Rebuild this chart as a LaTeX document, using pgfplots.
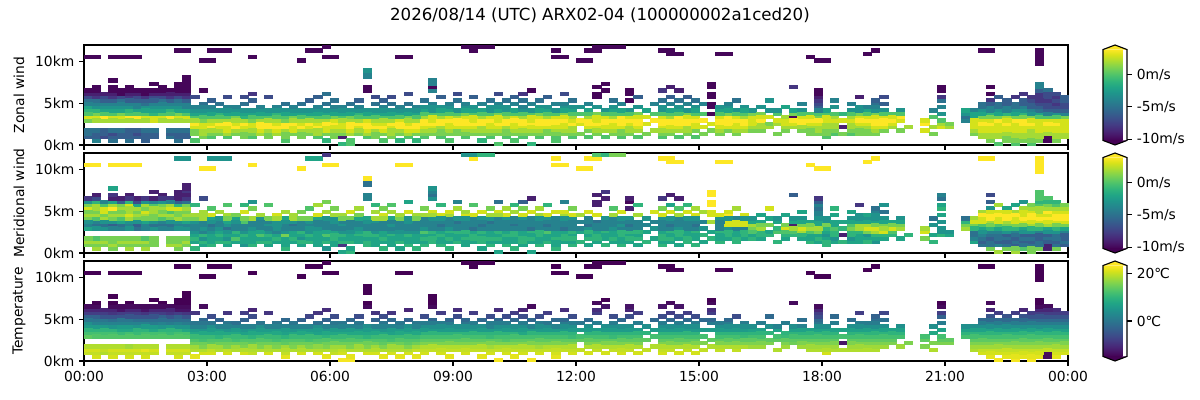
\documentclass[border=0pt]{standalone}
\usepackage{fontspec}
\setmainfont{DejaVu Sans}
\usepackage{pgfplots}
\usepackage{pgfplotstable}
\pgfplotsset{compat=1.18}
\definecolor{vtop}{RGB}{253,231,37}
\definecolor{vbot}{RGB}{68,1,84}

% i = 12-minute column (hour = 0.2 i), j = 0.4 km level; u, v in m/s, t in degC
\pgfplotstableread{
i j u v t
0 2 -6 1 20
0 3 -5 2 21
0 7 1 -2 14
0 8 3 -4 12
0 10 -1 1 6
0 11 -2 2 4
0 13 -5 3 -3
0 14 -7 1 -8
0 15 -9 -3 -11
0 16 -10 -8 -14
0 26 -10 4 -15
1 1 -4 2 21
1 2 -6 1 20
1 3 -6 2 21
1 4 -5 0 19
1 8 3 -5 12
1 9 1 -4 10
1 10 -1 0 6
1 11 -3 2 2
1 12 -4 1 0
1 13 -5 2 -3
1 14 -8 2 -8
1 15 -9 -1 -11
1 16 -10 -7 -14
1 17 -10 -9 -15
1 26 -10 4 -15
2 2 -7 1 19
2 3 -6 2 20
2 4 -6 1 19
2 7 2 -3 13
2 8 4 -5 12
2 10 -2 2 6
2 11 -3 1 2
2 12 -4 3 0
2 13 -6 3 -5
2 14 -7 0 -8
2 15 -9 -4 -11
3 1 -5 1 21
3 2 -6 2 20
3 3 -7 1 21
3 8 3 -6 12
3 9 0 -3 10
3 10 -2 1 5
3 11 -3 2 2
3 12 -4 1 -1
3 13 -6 4 -5
3 14 -8 2 -9
3 15 -9 -2 -11
3 16 -10 -9 -14
3 17 -10 -8 -15
3 19 -10 -2 -15
3 26 -10 4 -15
4 2 -6 1 20
4 3 -6 2 21
4 4 -5 1 19
4 7 2 -4 13
4 8 3 -5 11
4 9 1 -2 8
4 10 -2 0 6
4 11 -3 2 2
4 13 -5 2 -5
4 14 -7 1 -8
4 15 -10 -6 -13
4 16 -10 -9 -14
4 26 -10 4 -15
5 1 -5 2 21
5 2 -6 1 20
5 3 -6 2 21
5 4 -6 1 18
5 8 4 -4 12
5 9 0 -3 8
5 10 -1 2 6
5 11 -3 3 2
5 12 -4 2 0
5 14 -8 3 -8
5 15 -9 -1 -11
5 17 -10 -9 -15
5 26 -10 4 -15
6 2 -6 1 20
6 3 -7 2 21
6 4 -6 1 19
6 7 2 -5 13
6 8 4 -6 11
6 10 -2 1 5
6 11 -4 2 2
6 12 -4 1 -1
6 13 -6 2 -5
6 14 -7 -2 -8
6 15 -9 -7 -11
6 16 -10 -9 -14
6 26 -10 4 -15
7 1 -6 2 21
7 2 -6 1 20
7 3 -6 2 22
7 4 -5 0 19
7 8 3 -4 12
7 9 0 -2 10
7 11 -3 2 2
7 12 -5 3 -1
7 13 -6 1 -5
7 14 -8 2 -9
7 15 -10 -3 -13
7 16 -10 -8 -14
8 2 -6 1 20
8 3 -6 1 21
8 7 3 -3 13
8 8 3 -5 12
8 9 -1 -3 8
8 10 -2 1 6
8 11 -3 1 1
8 12 -4 2 -1
8 14 -7 0 -8
8 15 -9 -4 -11
8 16 -10 -9 -14
8 18 -10 -9 -15
9 8 3 -5 12
9 9 0 -4 10
9 10 -2 0 5
9 11 -3 2 2
9 13 -5 2 -3
9 14 -7 1 -8
9 15 -9 -3 -11
9 17 -10 -9 -15
10 2 -5 2 20
10 3 -6 1 21
10 7 2 -4 13
10 8 4 -5 11
10 10 -1 1 6
10 11 -3 2 1
10 12 -4 0 -1
10 13 -6 3 -5
10 14 -8 2 -9
10 16 -10 -8 -14
11 1 -5 1 21
11 2 -6 2 20
11 3 -6 1 21
11 8 3 -4 12
11 9 1 -3 10
11 10 -2 2 5
11 11 -3 1 2
11 12 -4 1 -1
11 13 -5 3 -3
11 14 -7 -1 -8
11 15 -9 -6 -13
11 16 -10 -9 -14
11 17 -10 -9 -15
11 18 -10 -9 -15
11 28 -10 -3 -15
12 2 -6 1 20
12 3 -6 2 21
12 4 -5 1 19
12 7 2 -3 13
12 8 3 -4 12
12 9 0 -2 8
12 10 -2 1 5
12 11 -4 2 1
12 12 -4 1 -1
12 13 -6 2 -5
12 14 -8 1 -9
12 15 -9 -5 -13
12 18 -10 -8 -15
12 19 -10 -9 -15
12 20 -10 -9 -15
12 28 -10 -3 -15
13 1 0 -1 22
13 3 1 -2 19
13 4 1 -1 18
13 5 3 -2 15
13 6 4 -3 13
13 8 0 -4 8
13 9 -2 -3 6
13 10 -3 1 2
13 11 -4 2 0
13 14 -7 -1 -9
14 2 1 -2 21
14 3 2 -1 19
14 4 2 -3 16
14 5 3 -1 15
14 6 3 -4 12
14 7 1 -3 11
14 9 -2 -4 5
14 10 -3 2 2
14 12 -5 2 -2
14 16 -10 -7 -14
14 25 -10 4 -15
15 2 0 -1 21
15 3 1 -2 20
15 5 4 -2 14
15 6 3 -3 13
15 7 2 -4 11
15 8 0 -5 8
15 10 -3 -2 4
15 11 -4 3 0
15 13 -6 0 -6
15 25 -10 4 -15
15 28 -10 -3 -15
16 3 1 -1 19
16 4 2 -2 18
16 5 3 -1 15
16 6 4 -2 13
16 7 2 -3 10
16 9 -1 -4 6
16 10 -3 -3 2
16 12 -5 2 -3
16 28 -10 -3 -15
17 2 0 -2 21
17 3 2 -1 20
17 4 3 -3 16
17 5 3 -2 15
17 7 2 -5 11
17 8 0 -3 8
17 9 -2 -2 5
17 11 -4 2 0
17 14 -7 0 -9
17 28 -10 -3 -15
18 3 1 -2 19
18 4 2 0 18
18 5 4 -2 15
18 6 3 -1 12
18 8 1 -4 8
18 10 -3 -2 2
18 11 -4 1 -1
19 2 1 -3 21
19 4 2 -2 16
19 5 3 -1 15
19 6 4 -3 13
19 7 2 -4 11
19 8 -1 -4 7
19 9 -2 0 5
19 12 -5 3 -3
19 14 -7 -1 -8
20 2 0 -1 20
20 3 1 -2 19
20 5 3 -2 14
20 6 3 -2 13
20 7 1 -3 10
20 9 -2 -4 6
20 10 -3 2 2
20 13 -6 1 -6
20 15 -8 -3 -11
20 26 -10 4 -15
21 3 2 -1 19
21 4 3 -2 16
21 5 4 0 15
21 7 2 -4 11
21 8 0 -4 8
21 10 -3 -3 4
21 11 -4 2 0
22 2 1 -2 21
22 3 1 -1 19
22 4 2 -2 18
22 5 4 -1 15
22 6 4 -3 13
22 8 0 -3 8
22 9 -2 -4 6
22 10 -3 1 2
22 14 -7 0 -9
23 3 2 -2 19
23 4 3 -1 16
23 5 4 -2 15
23 6 3 -4 12
23 7 2 -3 11
23 9 -1 -3 6
23 11 -4 3 0
24 1 0 -1 22
24 2 1 -2 20
24 4 2 -2 18
24 5 4 1 14
24 6 4 -3 13
24 7 1 -4 10
24 8 0 -4 7
24 10 -3 -2 2
24 12 -5 2 -2
25 3 1 -2 19
25 4 3 -1 16
25 5 3 -2 15
25 6 4 -2 13
25 8 1 -5 8
25 9 -2 -3 5
25 10 -3 2 2
25 11 -4 2 0
26 2 1 -2 21
26 4 2 -3 18
26 5 4 -2 15
26 6 3 -1 13
26 7 2 -4 11
26 9 -2 -4 6
26 12 -5 1 -3
26 25 -10 4 -15
27 3 1 -1 19
27 4 2 -2 16
27 5 3 -1 15
27 6 4 -3 12
27 8 0 -4 8
27 9 -2 -3 6
27 10 -3 1 2
27 13 -6 0 -7
27 28 -10 -2 -15
28 2 0 -2 21
28 3 2 -2 19
28 5 4 -2 14
28 6 3 -2 13
28 7 2 -3 11
28 8 0 -4 7
28 10 -3 -2 4
28 11 -4 3 -1
28 14 -6 2 -9
28 28 -10 -2 -15
29 1 -1 -3 22
29 3 1 -1 19
29 4 3 -2 16
29 5 3 0 15
29 7 2 -4 10
29 9 -2 -4 5
29 10 -3 -3 2
29 12 -5 2 -3
29 15 -5 1 -10
29 26 -10 4 -15
29 29 -10 -8 -15
30 2 1 -2 20
30 3 1 -2 19
30 4 2 -1 18
30 6 4 -2 13
30 7 3 -4 11
30 8 1 -4 8
30 10 -3 -3 2
30 11 -4 2 0
30 13 -5 1 -6
30 26 -10 4 -15
31 0 -1 -2 23
31 2 -9 -8 21
31 3 1 -1 20
31 4 2 -2 18
31 5 3 -1 15
31 6 3 -3 13
31 8 0 -3 8
31 9 -2 -4 6
31 11 -4 2 0
32 0 0 -1 23
32 1 0 -2 22
32 3 2 -1 19
32 4 3 -2 16
32 5 4 -2 15
32 7 2 -4 11
32 8 1 -4 8
32 10 -3 1 2
32 12 -5 3 -2
33 3 1 -2 19
33 5 3 -1 15
33 6 4 -2 13
33 7 2 -3 11
33 9 -1 -4 6
33 10 -3 -2 2
33 11 -4 1 0
33 13 -6 2 -6
34 2 0 -1 21
34 3 2 -1 19
34 4 3 -2 16
34 6 4 -1 13
34 7 3 -4 10
34 8 0 -4 8
34 10 -3 -2 4
34 16 -10 -4 -14
34 17 -10 -4 -15
34 20 -4 -5 -15
34 21 -4 -5 -15
34 22 -3 4 -15
35 2 1 -2 21
35 4 2 -2 18
35 5 4 -1 15
35 6 3 -3 13
35 7 2 -4 11
35 9 -2 -3 6
35 10 -3 2 2
35 12 -5 2 -3
35 14 -7 -1 -9
36 1 0 -1 22
36 3 1 -2 19
36 4 3 -1 16
36 5 4 -2 14
36 6 3 -2 13
36 8 0 -4 8
36 9 -2 -4 5
36 11 -4 3 0
36 13 -6 1 -6
37 2 1 -2 21
37 3 2 -2 19
37 5 3 -1 15
37 6 4 -3 12
37 7 2 -4 11
37 8 0 -3 7
37 10 -3 -2 2
37 12 -5 2 -2
37 14 -7 0 -9
38 1 -1 -2 22
38 3 1 -1 19
38 4 2 -2 18
38 5 4 -2 15
38 7 3 -4 11
38 9 -2 -4 6
38 10 -3 1 2
38 11 -4 2 0
38 26 -10 4 -15
39 2 0 -1 21
39 3 2 -2 19
39 4 3 -2 16
39 5 4 -1 14
39 6 3 -3 13
39 8 1 -4 8
39 10 -3 -3 4
39 12 -5 3 -3
39 15 -7 -2 -11
39 26 -10 4 -15
40 1 -1 -1 22
40 3 1 -2 20
40 4 3 -2 18
40 5 4 -2 15
40 6 4 -3 13
40 7 2 -4 11
40 9 -2 -4 6
40 11 -4 2 0
41 2 0 -1 21
41 3 1 -2 20
41 4 2 -1 19
41 5 3 -2 16
41 6 4 0 14
41 7 4 -3 12
41 8 2 -4 10
41 10 -2 -4 4
41 11 -3 2 1
41 13 -5 1 -6
42 3 1 -1 20
42 5 3 -2 16
42 6 4 -1 14
42 7 3 -4 12
42 9 0 -4 6
42 10 -3 -3 4
42 12 -4 3 -2
42 16 -4 -3 -14
42 17 -10 -5 -15
42 18 -4 -4 -15
42 19 -4 -3 -15
43 2 0 -1 21
43 4 1 -2 19
43 5 2 -1 16
43 6 4 -2 14
43 7 4 -4 12
43 8 2 -5 10
43 9 0 -4 6
43 11 -3 3 1
43 14 -6 -1 -8
44 1 0 -1 22
44 3 1 -2 20
44 4 2 -1 19
44 6 3 -1 14
44 7 4 -3 12
44 8 3 -4 10
44 10 -2 -4 4
44 11 -3 2 1
44 12 -4 3 -2
45 3 1 -1 20
45 4 1 -2 19
45 5 3 -2 16
45 6 4 -1 14
45 8 2 -4 10
45 9 0 -5 6
45 10 -3 -3 4
45 13 -5 2 -6
45 15 -7 -4 -10
46 2 0 -2 21
46 4 2 -1 19
46 5 3 -2 16
46 7 4 -4 12
46 8 3 -4 10
46 9 1 -4 6
46 11 -3 3 0
46 12 -4 2 -2
46 29 -10 -3 -15
47 3 1 -2 20
47 4 2 -1 19
47 5 3 -1 16
47 6 4 -2 14
47 7 3 -5 12
47 9 0 -4 6
47 10 -2 -4 4
47 11 -3 3 1
47 14 -6 0 -8
47 28 -10 4 -15
47 29 -10 -3 -15
48 1 -1 -2 22
48 3 1 -1 20
48 5 2 -2 16
48 6 4 -1 14
48 7 4 -4 12
48 8 2 -5 10
48 10 -2 -3 4
48 12 -4 3 -2
48 29 -10 -1 -15
49 2 0 -1 21
49 3 1 -2 20
49 4 2 -1 18
49 6 3 -2 14
49 7 4 -4 11
49 8 3 -4 10
49 9 0 -5 6
49 10 -3 -3 2
49 11 -3 2 1
49 13 -5 1 -6
49 29 -10 -1 -15
50 0 0 -2 23
50 3 1 -2 20
50 4 2 -1 19
50 5 3 -2 16
50 6 4 -1 14
50 7 3 -4 12
50 9 1 -4 6
50 10 -2 -4 4
50 12 -4 3 -2
50 15 -7 -5 -10
51 2 0 -1 21
51 4 1 -2 19
51 5 2 -1 16
51 6 4 -2 13
51 7 4 -4 12
51 8 2 -4 10
51 10 -3 -3 4
51 11 -3 3 1
51 13 -5 2 -6
52 1 0 -1 22
52 3 1 -2 20
52 4 2 -2 19
52 5 3 -1 16
52 6 3 -1 14
52 8 3 -5 10
52 9 0 -4 6
52 10 -2 -4 4
52 12 -4 2 -2
52 14 -6 -1 -8
53 2 0 -2 21
53 3 1 -1 20
53 5 3 -2 16
53 6 4 -2 14
53 7 4 -4 12
53 8 2 -4 8
53 10 -3 -3 4
53 11 -4 3 1
53 13 -5 1 -6
53 15 -8 -6 -11
54 0 -1 -2 23
54 3 1 -2 20
54 4 2 -1 19
54 6 4 -1 14
54 7 3 -5 12
54 9 0 -4 6
54 10 -3 -4 2
54 12 -4 3 -2
54 16 -10 -9 -14
55 2 0 -1 21
55 3 1 -2 20
55 4 2 -2 18
55 5 3 -1 16
55 7 4 -4 12
55 8 3 -4 10
55 9 1 -4 6
55 11 -3 2 1
55 13 -5 2 -6
56 3 1 -1 20
56 4 1 -2 19
56 5 3 -2 16
56 6 4 0 14
56 7 4 -4 12
56 8 2 -5 10
56 10 -2 -3 4
56 11 -3 3 0
56 14 -6 -1 -8
57 1 0 -1 22
57 2 0 -2 21
57 4 2 -1 19
57 6 4 -2 14
57 7 4 -4 12
57 8 3 -4 10
57 9 0 -4 6
57 10 -3 -4 2
57 12 -4 3 -2
57 26 -10 4 -15
57 28 -10 4 -15
58 3 1 -2 20
58 4 2 -1 19
58 5 3 -1 16
58 6 3 -2 14
58 7 4 -5 12
58 9 1 -4 6
58 11 -3 2 1
58 12 -4 3 -2
58 15 -7 -4 -10
58 26 -10 4 -15
59 2 0 -1 21
59 3 1 -2 20
59 5 2 -2 16
59 6 4 -1 14
59 7 3 -4 11
59 8 2 -4 10
59 10 -2 -3 4
59 11 -3 3 1
59 13 -5 1 -6
60 3 1 -1 20
60 6 3 -2 14
60 7 4 -4 12
60 9 0 -4 6
60 11 -3 2 0
60 25 -10 4 -15
61 2 0 -2 21
61 4 1 -1 19
61 5 3 -2 16
61 7 4 -3 12
61 8 2 -5 10
61 10 -2 -4 4
61 12 -4 3 -2
61 25 -10 4 -15
61 28 -10 4 -15
62 3 1 -2 20
62 5 3 -1 16
62 6 4 -2 14
62 7 3 -4 12
62 9 1 -5 6
62 11 -3 3 1
62 14 -10 -9 -8
62 15 -10 -9 -10
62 17 -10 -9 -14
62 28 -10 4 -15
62 29 -10 0 -15
63 2 0 -1 21
63 4 2 -2 19
63 6 4 -1 14
63 7 4 -4 12
63 8 3 -4 10
63 10 -3 -3 4
63 16 -10 -9 -13
63 18 -10 -8 -15
63 29 -10 -1 -15
64 3 1 -2 20
64 4 2 -1 19
64 6 3 -2 14
64 7 4 -3 11
64 8 2 -4 10
64 10 -2 -4 4
64 11 -3 2 1
64 13 -5 0 -6
64 29 -10 1 -15
65 2 0 -1 21
65 4 1 -2 19
65 5 3 -1 16
65 7 4 -4 12
65 8 4 -3 10
65 9 0 -4 6
65 12 -4 3 -2
65 29 -10 1 -15
66 3 1 -2 20
66 5 2 -2 16
66 6 3 -1 14
66 7 4 -4 12
66 8 3 -5 10
66 10 -3 -3 4
66 13 -10 -9 -6
66 15 -10 -10 -11
66 16 -10 -9 -13
67 2 0 -2 21
67 4 2 -1 19
67 5 3 -2 16
67 7 4 -4 12
67 9 1 -4 6
67 11 -3 2 1
67 14 -6 -1 -8
68 3 1 -1 20
68 6 3 -2 14
68 8 3 -4 10
68 10 -2 -3 4
69 4 2 -2 19
69 7 4 -3 12
69 9 0 -4 6
69 12 -4 3 -2
70 2 0 -1 21
70 3 1 -2 20
70 5 3 -1 16
70 6 4 -2 14
70 7 4 -4 12
70 8 3 -4 10
70 10 -3 -3 4
70 11 -3 3 1
70 13 -5 1 -6
70 16 -8 -8 -13
70 28 -10 4 -15
71 3 1 -2 20
71 4 2 -1 19
71 6 4 -1 14
71 7 4 -4 12
71 8 2 -5 10
71 9 0 -4 6
71 12 -4 3 -2
71 14 -6 -2 -8
71 17 -9 -9 -14
71 27 -10 4 -15
71 28 -10 4 -15
72 2 0 -2 21
72 4 2 -2 19
72 5 3 -1 16
72 7 4 -3 12
72 8 4 -4 10
72 10 -2 -4 4
72 11 -3 2 1
72 13 -5 0 -6
72 16 -9 -9 -13
72 27 -10 4 -15
73 3 1 -1 20
73 5 2 -2 16
73 6 4 -2 14
73 7 4 -4 12
73 9 1 -4 6
73 10 -3 -3 4
73 12 -4 3 -2
73 14 -6 -1 -8
74 2 0 -1 21
74 4 1 -2 19
74 6 3 -1 14
74 7 4 -4 12
74 8 3 -5 10
74 11 -3 3 1
74 13 -5 2 -6
75 3 1 -2 20
75 5 3 -1 16
75 7 4 -3 12
75 9 0 -4 6
75 12 -4 2 -2
76 4 1 -1 19
76 6 3 -2 14
76 9 -10 2 6
76 11 -10 3 1
76 12 -10 3 -2
76 14 -10 4 -8
76 15 -10 4 -10
76 17 -10 4 -14
76 18 -10 4 -15
77 3 1 -1 20
77 4 2 -2 19
77 6 4 -1 14
77 7 4 -4 12
77 8 3 -4 10
77 10 -2 -3 4
77 11 -3 3 1
77 27 -10 4 -15
78 4 1 -2 19
78 5 3 -1 16
78 7 4 -3 12
78 8 4 3 10
78 9 1 3 6
78 11 -3 4 1
78 12 -4 3 -2
78 27 -10 4 -15
79 3 1 -1 20
79 6 3 -2 14
79 7 4 -4 12
79 8 3 3 10
79 10 -3 -4 4
79 13 -5 2 -6
80 4 2 -2 19
80 5 3 -1 16
80 7 4 -4 11
80 8 2 3 10
80 9 0 3 6
80 11 -3 3 1
81 4 1 -1 18
81 5 2 -2 16
81 7 3 1 12
81 8 3 2 10
81 9 1 -2 7
81 10 -3 -3 4
82 4 1 -2 18
82 6 2 -1 14
82 7 4 2 12
82 9 1 -2 7
82 11 -3 -2 1
83 5 2 -1 16
83 6 1 -2 14
83 8 3 1 10
83 10 -3 -2 4
83 13 -3 3 -2
84 3 1 -1 19
84 6 2 0 14
84 7 3 -1 12
84 9 0 -2 7
84 10 -3 -3 2
85 4 1 -2 18
85 5 2 -1 16
85 7 3 3 11
85 8 2 1 10
85 11 -2 -2 1
86 5 2 -1 15
86 6 3 0 14
86 8 -10 -9 10
86 9 1 -2 7
86 10 -2 -3 4
86 17 -8 -6 -14
87 4 1 -2 18
87 6 4 2 14
87 7 4 3 12
87 8 3 1 10
87 10 -3 -3 2
87 12 -4 -2 -1
88 3 1 -1 19
88 5 2 -2 16
88 6 3 0 14
88 7 4 2 12
88 9 0 -2 7
88 26 -10 4 -15
89 3 1 -2 19
89 4 2 -1 18
89 5 2 -2 16
89 6 3 1 14
89 8 1 -2 10
89 11 -6 -4 0
89 12 -7 -4 -2
89 13 -8 -5 -6
89 14 -9 -4 -8
89 15 -10 -6 -11
89 16 -10 -8 -14
89 25 -10 4 -15
90 2 0 -1 21
90 4 1 -2 18
90 5 2 -3 16
90 6 2 -2 14
90 7 3 -1 12
90 9 0 -3 7
90 10 -2 -3 4
90 25 -10 4 -15
91 3 0 -2 19
91 4 1 -3 18
91 6 2 -1 14
91 7 3 0 12
91 8 2 -2 10
91 11 -3 -2 1
91 13 -4 -1 -2
92 3 1 -1 19
92 5 -9 -9 -13
92 7 3 -1 12
92 9 -1 -2 7
93 3 0 -2 19
93 4 1 -3 18
93 6 2 -1 14
93 7 3 1 12
93 8 2 0 10
93 10 -3 -3 4
93 12 -4 -2 -1
94 3 1 -2 19
94 5 2 -2 16
94 6 3 -1 14
94 8 3 2 10
94 9 1 -2 7
94 11 -3 -3 1
94 14 -9 -8 -8
95 4 1 -2 18
95 5 2 -3 16
95 6 3 1 14
95 7 4 3 12
95 8 3 2 10
95 10 -2 -3 4
95 11 -4 -2 1
95 27 -10 4 -15
96 3 1 -3 19
96 4 2 -2 18
96 5 3 -1 16
96 6 4 2 14
96 7 4 3 12
96 9 1 -2 7
96 12 -5 -4 -1
96 13 -6 -5 -3
96 28 -10 4 -15
97 4 1 -2 18
97 5 3 -1 16
97 6 4 3 14
97 8 3 1 10
97 10 -3 -3 4
97 12 -6 -5 -1
97 14 -7 -3 -7
98 5 2 -1 16
98 6 3 0 14
98 7 4 3 12
98 9 0 -2 7
99 4 1 -2 18
99 7 3 2 12
99 8 4 1 10
99 10 -3 -3 4
100 5 2 -1 16
102 4 3 1 16
102 6 4 3 14
102 7 3 2 12
103 3 1 -1 19
103 5 2 -2 16
103 8 0 -3 8
103 10 -4 -5 4
104 5 3 -1 16
104 6 2 -3 14
104 7 0 -3 12
104 9 -3 -3 7
104 11 -4 -2 1
104 13 -5 -1 -3
104 14 -8 -2 -8
104 16 -10 -5 -14
104 17 -10 -4 -15
105 5 2 -2 16
105 6 1 -3 14
107 7 -4 2 12
107 8 -5 1 10
107 9 -3 -1 7
107 10 -2 -5 4
108 3 1 -2 19
108 4 2 -4 18
108 5 3 -5 16
108 6 3 -5 14
108 8 -2 1 10
108 10 -4 2 4
109 2 2 -5 21
109 3 2 -6 20
109 4 3 -5 18
109 5 3 -4 16
109 7 3 -2 12
109 8 1 0 10
109 10 -3 3 4
109 12 -5 2 -2
109 28 -10 4 -15
110 1 1 1 22
110 3 2 -5 20
110 4 3 -6 18
110 5 3 -5 16
110 6 4 -4 14
110 7 3 -1 12
110 9 -1 2 7
110 11 -4 4 1
110 13 -8 -3 -5
110 15 -10 -6 -11
110 17 -10 -7 -14
110 28 -10 4 -15
111 0 0 2 23
111 2 2 -4 21
111 3 2 -6 20
111 5 3 -5 16
111 6 3 -4 14
111 7 4 -2 12
111 8 1 0 10
111 10 -3 3 4
111 12 -5 3 -2
111 14 -6 2 -8
112 1 1 1 22
112 2 1 -5 21
112 4 3 -5 18
112 5 3 -6 16
112 6 4 -3 14
112 8 2 1 10
112 9 -1 2 7
112 11 -4 4 1
112 13 -6 -2 -5
113 0 0 2 23
113 2 2 -6 21
113 3 2 -5 20
113 4 3 -6 18
113 6 3 -4 14
113 7 4 -1 12
113 8 1 1 10
113 10 -3 3 4
113 12 -5 2 -2
113 14 -8 -2 -8
114 1 1 0 22
114 3 2 -6 20
114 4 3 -5 18
114 5 3 -6 16
114 7 4 -2 12
114 9 -1 3 7
114 10 -3 4 4
114 11 -4 3 1
114 13 -6 2 -5
114 15 -8 -3 -11
115 0 0 1 23
115 2 2 -5 21
115 3 2 -6 20
115 4 2 -5 18
115 5 3 -6 16
115 6 4 -3 14
115 8 1 2 10
115 10 -4 4 4
115 12 -6 3 -2
115 13 -7 2 -5
115 14 -8 1 -8
116 1 1 1 22
116 3 2 -5 20
116 4 3 -6 18
116 6 3 -4 14
116 7 3 -1 12
116 9 -2 3 7
116 10 -5 4 4
116 11 -6 3 1
116 12 -7 2 -2
116 14 -8 0 -8
116 15 -8 -1 -11
116 16 -6 0 -14
116 17 -4 0 -15
116 18 -4 0 -15
116 24 -10 4 -15
116 25 -10 4 -15
116 26 -10 4 -15
116 27 -10 4 -15
116 28 -10 4 -15
117 1 -10 -9 -14
117 2 -10 -9 -14
117 4 3 -5 18
117 5 3 -6 16
117 7 3 -2 12
117 8 0 2 10
117 10 -6 4 4
117 11 -7 3 1
117 12 -7 4 -2
117 13 -8 2 -5
117 14 -7 1 -8
117 16 -5 0 -14
118 1 1 1 22
118 2 2 -5 21
118 3 2 -6 20
118 5 3 -5 16
118 6 4 -3 14
118 7 3 -1 12
118 9 -3 3 7
118 10 -6 4 4
118 11 -7 4 1
118 12 -8 3 -2
118 13 -7 2 -5
118 14 -8 0 -8
118 15 -7 -1 -10
119 2 2 -6 21
119 3 2 -5 20
119 4 3 -6 18
119 6 3 -4 14
119 7 3 -2 12
119 8 1 1 10
119 9 -4 3 7
119 10 -6 4 4
119 11 -7 4 1
119 12 -7 3 -2
119 13 -6 2 -5
119 14 -6 1 -8
0 4 -5 1 19
0 9 0 -3 10
0 12 -4 1 0
1 7 2 -3 13
2 9 0 -3 10
3 4 -5 1 19
3 7 2 -4 13
4 12 -4 1 0
5 7 2 -3 13
5 13 -6 2 -5
5 16 -10 -8 -14
6 9 0 -3 10
7 7 2 -4 13
7 10 -2 1 6
8 4 -5 1 19
8 13 -6 2 -5
9 7 2 -4 13
9 12 -4 1 -1
9 16 -10 -8 -14
10 4 -5 1 19
10 9 0 -3 10
10 15 -9 -4 -11
11 4 -5 1 19
11 7 2 -3 13
12 16 -10 -8 -14
12 17 -10 -9 -15
13 7 2 -4 11
14 8 0 -4 8
14 11 -4 2 0
15 4 2 -2 18
15 9 -2 -3 6
16 8 0 -4 8
17 6 4 -3 13
17 10 -3 1 2
18 7 2 -4 11
18 9 -2 -3 6
19 3 1 -2 19
19 10 -3 1 2
20 4 2 -2 18
20 8 0 -4 8
21 6 4 -2 13
21 9 -2 -4 6
22 7 2 -4 11
23 8 0 -3 8
23 10 -3 2 2
24 3 1 -2 19
24 9 -2 -3 6
25 7 2 -4 11
26 3 1 -1 19
26 8 0 -4 8
26 10 -3 1 2
27 7 2 -3 11
28 4 2 -2 17
28 9 -2 -4 6
29 6 4 -2 13
29 8 0 -4 8
30 5 3 -1 15
30 9 -2 -3 6
31 7 2 -4 11
31 10 -3 1 2
32 6 4 -3 13
32 9 -2 -4 6
33 4 2 -2 18
33 8 0 -4 8
34 5 4 -1 15
34 9 -2 -3 6
35 3 1 -2 19
35 8 0 -4 8
36 7 2 -4 11
36 10 -3 2 2
37 4 2 -2 18
37 9 -2 -4 6
38 6 4 -3 13
38 8 0 -4 8
39 7 2 -4 11
39 9 -2 -3 6
40 8 0 -4 8
40 10 -3 1 2
41 9 0 -4 6
42 4 2 -1 19
42 8 3 -4 10
42 11 -3 2 1
43 3 1 -2 20
43 10 -2 -3 4
44 5 3 -2 16
44 9 0 -4 6
45 7 4 -4 12
46 3 1 -2 20
46 6 4 -1 14
46 10 -2 -3 4
47 8 3 -4 10
48 4 2 -1 19
48 9 0 -4 6
49 5 3 -2 16
50 8 3 -4 10
50 11 -3 2 1
51 3 1 -2 20
51 9 0 -4 6
52 7 4 -4 12
53 4 2 -1 19
53 9 0 -4 6
54 5 3 -2 16
54 8 3 -4 10
55 6 4 -1 14
55 10 -2 -3 4
56 9 0 -4 6
57 3 1 -2 20
57 5 3 -2 16
58 8 3 -4 10
58 10 -2 -3 4
59 4 2 -1 19
59 9 0 -4 6
61 6 4 -1 14
61 9 0 -4 6
62 4 2 -1 19
62 8 3 -4 10
63 5 3 -2 16
63 9 0 -4 6
64 5 3 -2 16
64 9 0 -4 6
65 3 1 -2 20
65 6 4 -1 14
65 10 -2 -3 4
66 4 2 -1 19
66 9 0 -4 6
67 6 4 -1 14
67 8 3 -4 10
70 4 2 -1 19
70 9 0 -4 6
71 5 3 -2 16
71 10 -2 -3 4
72 6 4 -1 14
72 9 0 -4 6
73 4 2 -1 19
73 8 3 -4 10
74 5 3 -2 16
74 9 0 -4 6
74 10 -2 -3 4
77 5 3 -2 16
77 9 0 -4 6
78 6 4 -1 14
78 10 -2 -3 4
79 4 2 -1 19
79 5 3 -2 16
79 9 0 3 6
80 6 4 -1 14
80 10 -2 -3 4
81 6 3 0 14
82 5 2 -1 16
82 8 3 1 10
85 6 3 0 14
86 7 4 2 12
87 5 2 -1 16
87 9 0 -2 7
88 4 1 -2 18
88 8 3 1 10
89 7 4 2 12
89 9 0 -2 7
89 10 -4 -3 4
90 3 1 -1 19
90 8 3 1 10
91 5 2 -1 16
91 9 0 -2 7
93 5 2 -1 16
93 9 0 -2 7
94 4 1 -2 18
94 7 4 2 12
94 10 -3 -3 4
95 3 1 -1 19
95 9 0 -2 7
96 8 3 1 10
96 10 -3 -3 4
96 11 -4 -3 1
97 7 4 2 12
97 9 0 -2 7
98 8 3 1 10
99 9 0 -2 7
108 7 3 -1 12
108 9 -2 3 7
109 6 4 -3 14
109 9 -2 3 7
109 11 -5 4 1
110 2 2 -5 21
110 8 1 1 10
110 10 -4 4 4
110 12 -6 3 -2
111 4 3 -5 18
111 9 -2 3 7
111 11 -5 4 1
112 3 2 -6 20
112 7 3 -1 12
112 10 -4 4 4
112 12 -6 3 -2
113 1 1 1 22
113 5 3 -5 16
113 9 -2 3 7
113 11 -5 4 1
114 2 2 -5 21
114 6 4 -3 14
114 8 1 1 10
114 12 -6 3 -2
115 1 1 1 22
115 7 3 -1 12
115 9 -3 3 7
115 11 -6 4 1
116 2 2 -5 21
116 5 3 -6 16
116 8 0 1 10
116 13 -8 2 -5
117 3 2 -6 20
117 6 4 -3 14
117 9 -4 3 7
117 15 -7 -1 -11
118 4 3 -5 18
118 8 0 1 10
119 5 3 -6 16
}\obs

\pgfplotsset{
  every tick label/.append style={font=\fontsize{10}{12}\selectfont},
  cbar/.style={
    at={(parent axis.east)}, anchor=west, xshift=16.7bp,
    width=17.28bp, height=65.45bp, scale only axis,
    axis line style={draw=none},
    xtick=\empty, ytick pos=right, yticklabel pos=right,
    tick align=outside, major tick length=3.5bp,
    tick style={black, line width=0.8bp},
    clip=false,
    after end axis/.code={
      \fill[vtop] (rel axis cs:0,1) -- (rel axis cs:0.5,1.05) -- (rel axis cs:1,1) -- cycle;
      \fill[vbot] (rel axis cs:0,0) -- (rel axis cs:0.5,-0.05) -- (rel axis cs:1,0) -- cycle;
      \draw[black, line width=0.8bp] (rel axis cs:0,0) -- (rel axis cs:0.5,-0.05) -- (rel axis cs:1,0)
        -- (rel axis cs:1,1) -- (rel axis cs:0.5,1.05) -- (rel axis cs:0,1) -- cycle;
    },
  },
  panel/.style={
    anchor=south west,
    width=708.48bp, height=72bp, scale only axis,
    xmin=0, xmax=24, ymin=0, ymax=12,
    xtick={0,3,...,24}, ytick={0,5,10},
    yticklabels={0km,5km,10km},
    tick pos=left, tick align=outside,
    major tick length=3.5bp,
    tick style={black, line width=0.8bp},
    axis line style={line width=0.8bp},
    label style={font=\fontsize{10}{12}\selectfont},
    every axis y label/.style={at={(axis description cs:-0.066,0.5)}, rotate=90, anchor=center},
    colormap/viridis,
    colorbar,
  },
  cells/.style={
    scatter, only marks, mark=square*, mark size=1bp,
    mark options={xscale=2.952, yscale=1.2, line width=0.15bp},
    scatter/use mapped color={draw=mapped color, fill=mapped color},
  },
}

\begin{document}
\begin{tikzpicture}
\useasboundingbox (0,0) rectangle (864bp,288bp);
\node[font=\fontsize{12}{14.4}\selectfont] at (432bp,277.2bp) {2026/08/14 (UTC) ARX02-04 (100000002a1ced20)};

\begin{axis}[panel, at={(60.48bp,183.6bp)}, xticklabels={}, ylabel={Zonal wind},
  point meta min=-10.2, point meta max=3.9,
  colorbar style={cbar, ytick={-10,-5,0}, yticklabels={-10m/s,-5m/s,0m/s}}]
\addplot[cells, point meta=\thisrow{u}] table[x expr=\thisrow{i}*0.2+0.1, y expr=\thisrow{j}*0.4+0.2] {\obs};
\end{axis}

\begin{axis}[panel, at={(60.48bp,105.84bp)}, xticklabels={}, ylabel={Meridional wind},
  point meta min=-10.2, point meta max=3.9,
  colorbar style={cbar, ytick={-10,-5,0}, yticklabels={-10m/s,-5m/s,0m/s}}]
\addplot[cells, point meta=\thisrow{v}] table[x expr=\thisrow{i}*0.2+0.1, y expr=\thisrow{j}*0.4+0.2] {\obs};
\end{axis}

\begin{axis}[panel, at={(60.48bp,28.08bp)},
  xticklabels={00:00,03:00,06:00,09:00,12:00,15:00,18:00,21:00,00:00},
  ylabel={Temperature},
  point meta min=-15, point meta max=23.5,
  colorbar style={cbar, ytick={0,20}, yticklabels={0℃,20℃}}]
\addplot[cells, point meta=\thisrow{t}] table[x expr=\thisrow{i}*0.2+0.1, y expr=\thisrow{j}*0.4+0.2] {\obs};
\end{axis}
\end{tikzpicture}
\end{document}
